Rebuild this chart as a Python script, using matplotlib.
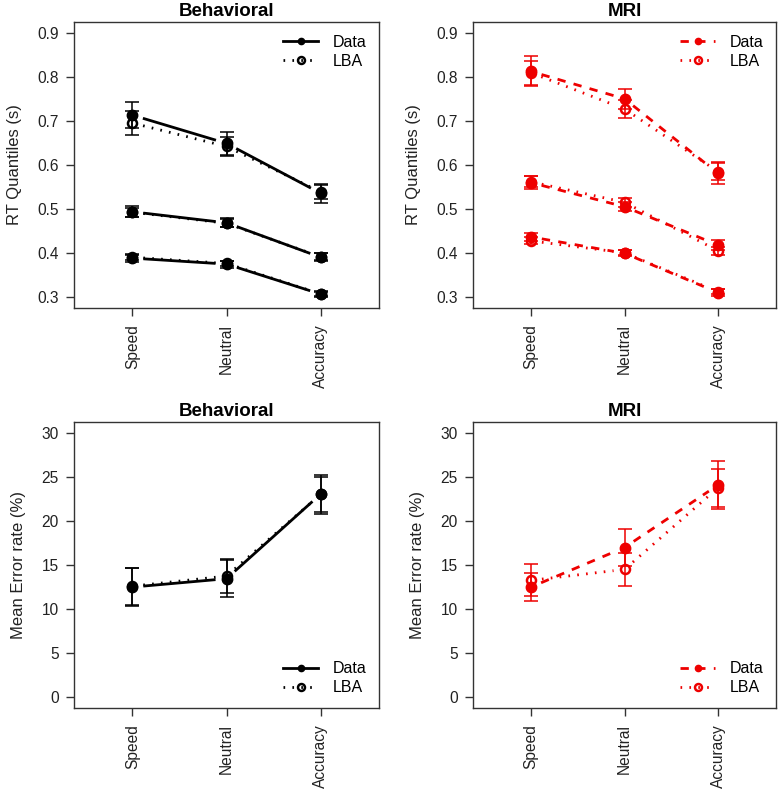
import numpy as np
import matplotlib
matplotlib.use("Agg")
from matplotlib import pyplot as plt
from matplotlib.lines import Line2D

plt.rcParams['font.family'] = ['Liberation Sans', 'DejaVu Sans']

conds = ["Speed", "Neutral", "Accuracy"]

# RT quantiles (s): 3 quantiles x 3 conditions
beh_rt_data = [[0.713, 0.649, 0.536], [0.494, 0.469, 0.391], [0.389, 0.3755, 0.3075]]
beh_rt_data_se = [[0.030, 0.026, 0.022], [0.012, 0.010, 0.009], [0.008, 0.008, 0.006]]
beh_rt_lba = [[0.695, 0.642, 0.539], [0.493, 0.468, 0.392], [0.391, 0.377, 0.308]]
beh_rt_lba_se = [[0.027, 0.022, 0.015], [0.010, 0.009, 0.008], [0.007, 0.006, 0.005]]

mri_rt_data = [[0.812, 0.750, 0.581], [0.560, 0.5055, 0.4186], [0.437, 0.400, 0.311]]
mri_rt_data_se = [[0.034, 0.022, 0.025], [0.015, 0.010, 0.012], [0.009, 0.007, 0.007]]
mri_rt_lba = [[0.809, 0.727, 0.585], [0.562, 0.5155, 0.4057], [0.428, 0.401, 0.313]]
mri_rt_lba_se = [[0.027, 0.020, 0.020], [0.012, 0.010, 0.009], [0.008, 0.006, 0.005]]

# Mean error rate (%)
beh_err_data = [12.5, 13.45, 23.03]
beh_err_data_se = [2.2, 2.1, 2.2]
beh_err_lba = [12.6, 13.75, 23.0]
beh_err_lba_se = [2.1, 1.9, 2.0]

mri_err_data = [12.5, 16.98, 24.06]
mri_err_data_se = [1.6, 2.1, 2.7]
mri_err_lba = [13.26, 14.5, 23.75]
mri_err_lba_se = [1.8, 1.9, 2.15]

fig = plt.figure(figsize=(7.8, 7.9), dpi=100)
W, H = 780.0, 790.0

dotted = (0, (0.6, 2.6))
dash = (0, (3, 3))
red = '#ee0000'


def make_ax(x0, x1, y0, y1):
    return fig.add_axes([x0 / W, 1 - y1 / H, (x1 - x0) / W, (y1 - y0) / H])


def gapped_line(ax, y, color, ls, gap=11):
    # R type="b": segments with gaps around the points
    x = np.arange(1, len(y) + 1)
    pts = ax.transData.transform(np.column_stack([x, y]))
    inv = ax.transData.inverted()
    for i in range(len(pts) - 1):
        p0, p1 = pts[i], pts[i + 1]
        d = p1 - p0
        L = np.hypot(*d)
        if L <= 2 * gap:
            continue
        u = d / L
        a = inv.transform(p0 + u * gap)
        b = inv.transform(p1 - u * gap)
        ax.plot([a[0], b[0]], [a[1], b[1]], color=color, ls=ls, lw=2,
                solid_capstyle='butt', dash_capstyle='butt')


def draw_series(ax, data, data_se, lba, lba_se, color, data_ls):
    x = np.arange(1, len(data) + 1)
    gapped_line(ax, lba, color, dotted)
    gapped_line(ax, data, color, data_ls)
    ax.errorbar(x, lba, yerr=lba_se, fmt='none', ecolor=color, elinewidth=1.1,
                capsize=5, capthick=1.1)
    ax.errorbar(x, data, yerr=data_se, fmt='none', ecolor=color, elinewidth=1.1,
                capsize=5, capthick=1.1)
    ax.plot(x, lba, 'o', ms=6.5, mfc='none', mec=color, mew=1.8, ls='none')
    ax.plot(x, data, 'o', ms=7.5, color=color, ls='none')


def style_ax(ax, title, ylabel, ylim, yticks, ticklabels):
    ax.set_xlim(0.38, 3.62)
    ax.set_ylim(*ylim)
    ax.set_xticks([1, 2, 3])
    ax.set_xticklabels(conds, rotation=90, fontsize=11.2)
    ax.set_yticks(yticks)
    ax.set_yticklabels(ticklabels, fontsize=11.2)
    ax.tick_params(direction='out', length=5.5, width=1, color='#333333',
                   labelcolor='#222222')
    ax.tick_params(axis='x', pad=6)
    ax.tick_params(axis='y', pad=5.5)
    for s in ax.spines.values():
        s.set_linewidth(1)
        s.set_color('#333333')
    ax.set_title(title, fontsize=13.5, fontweight='bold', pad=4)
    ax.set_ylabel(ylabel, fontsize=12, color='#222222', labelpad=11)


def add_legend(ax, color, data_ls, loc):
    h = [Line2D([], [], color=color, ls=data_ls, lw=2, marker='o', ms=4.5),
         Line2D([], [], color=color, ls=dotted, lw=2, marker='o', ms=5,
                mfc='none', mew=1.8)]
    ax.legend(h, ["Data", "LBA"], loc=loc, frameon=False, fontsize=11.5,
              handlelength=2.2, handletextpad=0.9, borderaxespad=0.4, labelspacing=0.25)


rt_ticks = [0.3, 0.4, 0.5, 0.6, 0.7, 0.8, 0.9]
rt_labels = ["0.3", "0.4", "0.5", "0.6", "0.7", "0.8", "0.9"]
err_ticks = [0, 5, 10, 15, 20, 25, 30]
err_labels = ["0", "5", "10", "15", "20", "25", "30"]
rt_lim = (0.276, 0.924)
err_lim = (-1.2, 31.2)

ax1 = make_ax(74, 379, 22, 308)
style_ax(ax1, "Behavioral", "RT Quantiles (s)", rt_lim, rt_ticks, rt_labels)
for q in range(3):
    draw_series(ax1, beh_rt_data[q], beh_rt_data_se[q], beh_rt_lba[q], beh_rt_lba_se[q], 'black', '-')
add_legend(ax1, 'black', '-', 'upper right')

ax2 = make_ax(473, 776, 22, 308)
style_ax(ax2, "MRI", "RT Quantiles (s)", rt_lim, rt_ticks, rt_labels)
for q in range(3):
    draw_series(ax2, mri_rt_data[q], mri_rt_data_se[q], mri_rt_lba[q], mri_rt_lba_se[q], red, dash)
add_legend(ax2, red, dash, 'upper right')

ax3 = make_ax(74, 379, 422, 708)
style_ax(ax3, "Behavioral", "Mean Error rate (%)", err_lim, err_ticks, err_labels)
draw_series(ax3, beh_err_data, beh_err_data_se, beh_err_lba, beh_err_lba_se, 'black', '-')
add_legend(ax3, 'black', '-', 'lower right')

ax4 = make_ax(473, 776, 422, 708)
style_ax(ax4, "MRI", "Mean Error rate (%)", err_lim, err_ticks, err_labels)
draw_series(ax4, mri_err_data, mri_err_data_se, mri_err_lba, mri_err_lba_se, red, dash)
add_legend(ax4, red, dash, 'lower right')

fig.savefig("out.png", dpi=100)
